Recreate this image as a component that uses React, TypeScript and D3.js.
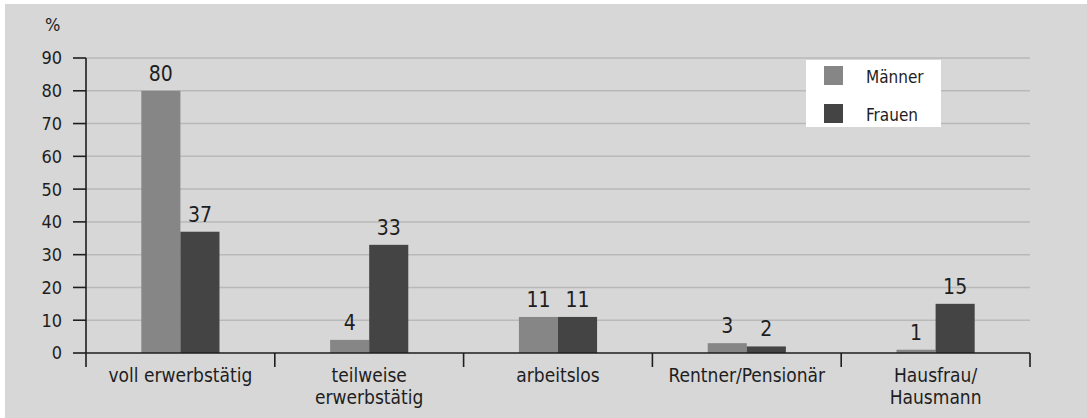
import { useMemo } from "react"
import * as d3 from "d3"

// Data
const categories = [
  ["voll erwerbstätig"],
  ["teilweise", "erwerbstätig"],
  ["arbeitslos"],
  ["Rentner/Pensionär"],
  ["Hausfrau/", "Hausmann"],
]
const seriesNames = ["Männer", "Frauen"]
const maenner = [80, 4, 11, 3, 1]
const frauen = [37, 33, 11, 2, 15]
const yTicks = [0, 10, 20, 30, 40, 50, 60, 70, 80, 90]

const colors = ["#868686", "#444444"]
const font = "'Liberation Sans Narrow', 'Arial Narrow', 'DejaVu Sans Condensed', sans-serif"
const textColor = "#1e1e1e"

export default function App() {
  const width = 1087
  const height = 418
  const margin = { left: 86, right: 57, top: 58, bottom: 65 }

  const x = useMemo(
    () =>
      d3
        .scaleBand<number>()
        .domain(categories.map((_, i) => i))
        .range([margin.left, width - margin.right])
        .padding(0),
    []
  )
  const y = useMemo(
    () => d3.scaleLinear().domain([0, 90]).range([height - margin.bottom, margin.top]),
    []
  )

  const barW = x.bandwidth() * 0.207
  const series = [maenner, frauen]

  return (
    <svg
      width={width}
      height={height}
      style={{ position: "absolute", left: 0, top: 0 }}
      fontFamily={font}
    >
      <rect x={5} y={4} width={width - 5} height={height - 4} fill="#d7d7d7" />

      {/* grid lines */}
      {yTicks.slice(1).map((t) => (
        <line
          key={t}
          x1={margin.left}
          x2={width - margin.right}
          y1={y(t)}
          y2={y(t)}
          stroke="#b9b9b9"
          strokeWidth={1.5}
        />
      ))}

      {/* bars */}
      {series.map((vals, s) =>
        vals.map((v, i) => {
          const cx = x(i)! + x.bandwidth() / 2
          const bx = cx - barW + s * barW
          return (
            <g key={`${s}-${i}`}>
              <rect x={bx} y={y(v)} width={barW} height={y(0) - y(v)} fill={colors[s]} />
              <text
                x={bx + barW / 2}
                y={y(v) - 10}
                textAnchor="middle"
                fontSize={21}
                fill={textColor}
              >
                {v}
              </text>
            </g>
          )
        })
      )}

      {/* y axis */}
      <line x1={margin.left} x2={margin.left} y1={y(90)} y2={y(0) + 14} stroke={textColor} strokeWidth={1.6} />
      {yTicks.map((t) => (
        <g key={t}>
          <line x1={margin.left - 13} x2={margin.left} y1={y(t)} y2={y(t)} stroke={textColor} strokeWidth={1.6} />
          <text x={62} y={y(t)} dy="0.36em" textAnchor="end" fontSize={18} fill={textColor}>
            {t}
          </text>
        </g>
      ))}
      <text x={45} y={31} fontSize={18} fill={textColor}>
        %
      </text>

      {/* x axis */}
      <line x1={margin.left} x2={width - margin.right} y1={y(0)} y2={y(0)} stroke={textColor} strokeWidth={1.6} />
      {categories.map((_, i) => (
        <line
          key={i}
          x1={x(i)! + x.bandwidth()}
          x2={x(i)! + x.bandwidth()}
          y1={y(0)}
          y2={y(0) + 14}
          stroke={textColor}
          strokeWidth={1.6}
        />
      ))}
      {categories.map((lines, i) => (
        <text
          key={i}
          x={x(i)! + x.bandwidth() / 2}
          y={382}
          textAnchor="middle"
          fontSize={19}
          fill={textColor}
        >
          {lines.map((l, j) => (
            <tspan key={j} x={x(i)! + x.bandwidth() / 2} dy={j === 0 ? 0 : 22}>
              {l}
            </tspan>
          ))}
        </text>
      ))}

      {/* legend */}
      <rect x={806} y={60} width={135} height={67} fill="#fff" />
      {seriesNames.map((n, s) => (
        <g key={n}>
          <rect x={824} y={66 + s * 38} width={19} height={19} fill={colors[s]} />
          <text x={866} y={83 + s * 38} fontSize={17} fill={textColor}>
            {n}
          </text>
        </g>
      ))}
    </svg>
  )
}
